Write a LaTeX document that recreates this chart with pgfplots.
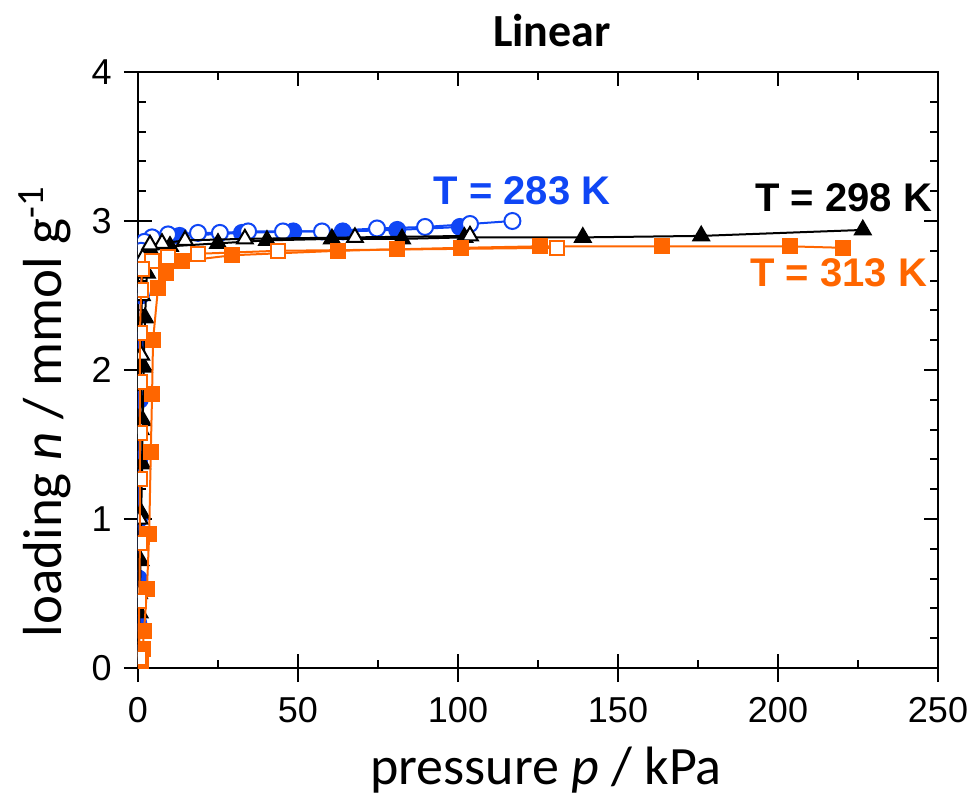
\documentclass[border=0pt]{standalone}
\usepackage{pgfplots}
\pgfplotsset{compat=1.18}
\usepackage{fontspec}
\setmainfont{Carlito}
\newfontfamily\arial{Liberation Sans}
\definecolor{b283}{RGB}{15,70,245}
\definecolor{o313}{RGB}{255,102,0}
\begin{document}
\begin{tikzpicture}
\path[use as bounding box] (-69pt,-64.5pt) rectangle (419.5pt,334pt);
% outward major ticks (left/bottom)
\begin{axis}[at={(0,0)}, anchor=south west, scale only axis, width=400pt, height=298pt,
  xmin=0, xmax=250, ymin=0, ymax=4,
  xtick={0,50,...,250}, ytick={0,1,2,3,4},
  xticklabels={}, yticklabels={},
  tick pos=left, tick align=outside, major tick length=7pt,
  axis line style={line width=1pt}, every tick/.style={black, line width=1pt}]
\end{axis}
\begin{axis}[at={(0,0)}, anchor=south west, scale only axis, width=400pt, height=298pt,
  xmin=0, xmax=250, ymin=0, ymax=4,
  xtick={0,50,...,250}, ytick={0,1,2,3,4},
  minor x tick num=1, minor y tick num=4,
  tick align=inside, major tick length=7pt, minor tick length=4pt,
  axis line style={line width=1pt}, every tick/.style={black, line width=1pt},
  /pgf/number format/assume math mode=true,
  tick label style={font=\arial\fontsize{18}{18}\selectfont},
  xticklabel style={anchor=north, inner sep=0pt, yshift=-14.5pt},
  yticklabel style={anchor=east, inner sep=0pt, xshift=-13pt},
  xlabel={pressure \textit{p} / kPa},
  every axis x label/.style={at={(rel axis cs:0.51,-0.1711)}, anchor=center, font=\fontsize{27}{27}\selectfont},
  ylabel={loading \textit{n} / mmol g\textsuperscript{-1}},
  every axis y label/.style={at={(rel axis cs:-0.11625,0.43)}, anchor=center, rotate=90, font=\fontsize{27.5}{27.5}\selectfont},
  title={\textbf{Linear}},
  every axis title/.style={at={(rel axis cs:0.5175,1.0688)}, anchor=center, font=\fontsize{23}{23}\selectfont},
  clip=true, clip marker paths=true]
% 283 K adsorption
\addplot[color=b283, line width=1pt, mark=*, mark size=4pt, mark options={solid, fill=b283}] coordinates {
(0.05,0.1) (0.1,0.3) (0.2,0.6) (0.3,1.0) (0.4,1.4) (0.55,1.8) (0.7,2.2) (0.9,2.5) (1.1,2.7) (1.6,2.84) (5,2.88) (13,2.90) (32.5,2.92) (48.5,2.93) (64,2.93) (81,2.94) (100.6,2.96)};
% 283 K desorption
\addplot[color=b283, line width=1pt, mark=*, mark size=4pt, mark options={solid, fill=white, draw=b283}] coordinates {
(117,3.0) (103.75,2.98) (89.7,2.96) (74.7,2.95) (57.5,2.93) (45.3,2.93) (34.4,2.93) (25.6,2.92) (18.75,2.92) (9.4,2.91) (4.4,2.89) (2.0,2.86) (1.0,2.8)};
% 298 K adsorption
\addplot[color=black, line width=1pt, mark=triangle*, mark size=4.5pt, mark options={solid, fill=black}] coordinates {
(0.2,0.05) (0.5,0.37) (0.8,0.72) (1.0,1.04) (1.3,1.37) (1.5,1.66) (1.8,2.02) (2.2,2.35) (2.8,2.65) (4,2.80) (10,2.83) (25,2.85) (40.3,2.87) (60.6,2.88) (82.5,2.88) (102,2.89) (139,2.89) (176,2.90) (226.5,2.94)};
% 298 K desorption
\addplot[color=black, line width=1pt, mark=triangle*, mark size=4.5pt, mark options={solid, fill=white, draw=black}] coordinates {
(103.75,2.90) (67.8,2.89) (33.4,2.88) (14.7,2.87) (7.5,2.85) (3.75,2.84) (1.5,2.75) (1.2,2.5) (1.0,2.1) (0.8,1.6) (0.5,1.0) (0.3,0.5) (0.1,0.1)};
% 313 K adsorption
\addplot[color=o313, line width=1pt, mark=square*, mark size=3.5pt, mark options={solid, fill=o313}] coordinates {
(0.8,0.02) (1.5,0.13) (1.9,0.25) (2.8,0.53) (3.5,0.90) (4.0,1.45) (4.4,1.84) (4.7,2.2) (6.25,2.55) (8.75,2.65) (13.75,2.73) (29.4,2.77) (62.5,2.80) (81,2.81) (101,2.82) (125.6,2.83) (163.75,2.83) (203.75,2.83) (220.3,2.82)};
% 313 K desorption
\addplot[color=o313, line width=1pt, mark=square*, mark size=3.5pt, mark options={solid, fill=white, draw=o313}] coordinates {
(131,2.82) (43.75,2.80) (18.75,2.78) (9.4,2.76) (4.4,2.73) (1.2,2.68) (1.0,2.54) (0.6,2.25) (0.6,1.92) (0.6,1.58) (0.6,1.27) (0.6,0.84) (0.4,0.45) (0.3,0.07)};
\node[font=\arial\bfseries\fontsize{20}{20}\selectfont, text=b283] at (axis cs:120,3.20) {T = 283 K};
\node[font=\arial\bfseries\fontsize{20}{20}\selectfont, text=black] at (axis cs:220.5,3.156) {T = 298 K};
\node[font=\arial\bfseries\fontsize{20}{20}\selectfont, text=o313] at (axis cs:219,2.65) {T = 313 K};
\end{axis}
\end{tikzpicture}
\end{document}
